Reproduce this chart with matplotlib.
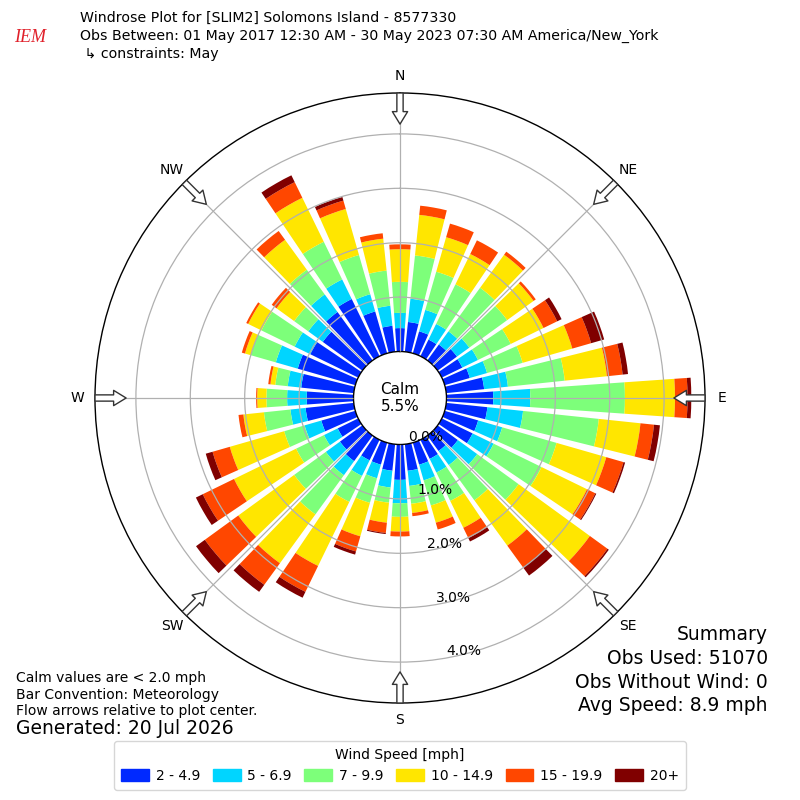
import numpy as np
import matplotlib
matplotlib.use("Agg")
import matplotlib.pyplot as plt
from matplotlib.patches import Rectangle, FancyArrowPatch

# ---------------- data ----------------
directions_deg = list(range(0, 360, 10))
speed_labels = ["2 - 4.9", "5 - 6.9", "7 - 9.9", "10 - 14.9", "15 - 19.9", "20+"]

# frequency (%) of each speed bin per direction (0, 10, ..., 350 deg)
freq_2_5 = [0.43, 0.55, 0.42, 0.34, 0.36, 0.44, 0.42, 0.48, 0.70, 0.86, 0.76, 0.64,
            0.63, 0.46, 0.35, 0.39, 0.42, 0.49, 0.65, 0.49, 0.42, 0.42, 0.58, 0.51,
            0.42, 0.65, 0.89, 0.86, 0.97, 1.10, 0.98, 0.90, 1.10, 1.17, 0.80, 0.48]
freq_5_7 = [0.28, 0.43, 0.41, 0.32, 0.30, 0.28, 0.32, 0.33, 0.44, 0.68, 0.66, 0.46,
            0.43, 0.44, 0.32, 0.28, 0.30, 0.28, 0.43, 0.31, 0.26, 0.32, 0.32, 0.32,
            0.28, 0.32, 0.28, 0.36, 0.25, 0.42, 0.32, 0.33, 0.40, 0.40, 0.33, 0.37]
freq_7_10 = [0.57, 0.80, 0.73, 0.81, 0.99, 0.86, 0.67, 0.68, 1.05, 1.74, 1.40, 1.04,
             0.98, 0.94, 0.80, 0.58, 0.48, 0.33, 0.25, 0.28, 0.47, 0.53, 0.89, 0.72,
             0.57, 0.39, 0.49, 0.38, 0.23, 0.48, 0.68, 0.32, 0.56, 0.77, 0.75, 0.65]
freq_10_15 = [0.60, 0.75, 0.66, 0.62, 0.75, 0.60, 0.67, 0.95, 0.78, 0.92, 0.77, 0.95,
              0.93, 1.62, 1.03, 0.55, 0.33, 0.17, 0.27, 0.37, 0.64, 1.31, 1.11, 1.27,
              1.27, 1.04, 0.38, 0.17, 0.09, 0.11, 0.27, 0.40, 0.68, 0.90, 0.88, 0.59]
freq_15_20 = [0.09, 0.17, 0.26, 0.28, 0.07, 0.05, 0.28, 0.36, 0.29, 0.23, 0.25, 0.33,
              0.17, 0.40, 0.49, 0.21, 0.13, 0.06, 0.09, 0.19, 0.29, 0.53, 0.49, 0.76,
              0.64, 0.33, 0.09, 0.02, 0.04, 0.06, 0.04, 0.11, 0.20, 0.32, 0.16, 0.10]
freq_20_up = [0.00, 0.00, 0.00, 0.00, 0.00, 0.00, 0.09, 0.25, 0.10, 0.07, 0.11, 0.03,
              0.02, 0.03, 0.19, 0.07, 0.00, 0.00, 0.00, 0.02, 0.06, 0.12, 0.16, 0.20,
              0.14, 0.13, 0.00, 0.00, 0.00, 0.00, 0.00, 0.00, 0.00, 0.14, 0.07, 0.00]

calm_pct = 5.5
compass_deg = [0, 45, 90, 135, 180, 225, 270, 315]
compass_labels = ["N", "NE", "E", "SE", "S", "SW", "W", "NW"]
radial_ticks = [0, 1, 2, 3, 4]
radial_labels = ["0.0%", "1.0%", "2.0%", "3.0%", "4.0%"]

title_lines = ["Windrose Plot for [SLIM2] Solomons Island - 8577330",
               "Obs Between: 01 May 2017 12:30 AM - 30 May 2023 07:30 AM America/New_York",
               " \u21b3 constraints: May"]
notes_lines = ["Calm values are < 2.0 mph", "Bar Convention: Meteorology",
               "Flow arrows relative to plot center."]
generated = "Generated: 20 Jul 2026"
summary_lines = ["Summary", "Obs Used: 51070", "Obs Without Wind: 0", "Avg Speed: 8.9 mph"]

# ---------------- plot ----------------
fig = plt.figure(figsize=(8, 8), dpi=100)
ax = fig.add_axes([0.11875, 0.12125, 0.7625, 0.7625], projection="polar")
ax.set_theta_zero_location("N")
ax.set_theta_direction(-1)
rmax = 4.752
ax.set_ylim(0, rmax)
ax.set_rorigin(-0.855)
ax.set_axisbelow(False)

cmap = plt.get_cmap("jet")
colors = [cmap(v) for v in np.linspace(0, 1, 7)[1:]]
series = [freq_2_5, freq_5_7, freq_7_10, freq_10_15, freq_15_20, freq_20_up]

theta = np.radians(directions_deg)
bottom = np.zeros(len(directions_deg))
for vals, col, lab in zip(series, colors, speed_labels):
    vals = np.array(vals)
    ax.bar(theta, vals, width=np.radians(8), bottom=bottom, color=col,
           edgecolor="none", label=lab, zorder=1)
    bottom = bottom + vals

ax.set_xticks(np.radians(compass_deg))
ax.set_xticklabels(compass_labels, fontsize=10)
ax.tick_params(axis="x", pad=2)
ax.set_yticks(radial_ticks)
ax.set_yticklabels(radial_labels, fontsize=10)
ax.set_rlabel_position(170)
ax.grid(True, color="#b0b0b0", linewidth=0.9)
ax.yaxis.get_gridlines()[0].set_visible(False)
ax.spines["polar"].set_linewidth(1.0)
ax.spines["inner"].set_linewidth(1.0)

for d in compass_deg:
    arr = FancyArrowPatch(posA=(np.radians(d), rmax), posB=(np.radians(d), 4.18),
                          arrowstyle="simple,head_length=9,head_width=11,tail_width=4.5",
                          mutation_scale=1, fc="white", ec="#333333", lw=1.0,
                          transform=ax.transData, clip_on=False, zorder=6,
                          shrinkA=0, shrinkB=0)
    ax.add_patch(arr)

ax.text(0.5, 0.5, "Calm\n%.1f%%" % calm_pct, transform=ax.transAxes,
        ha="center", va="center", fontsize=11)

# titles
for i, line in enumerate(title_lines):
    fig.text(0.1, 1 - (18 + 18 * i) / 800, line, ha="left", va="center", fontsize=10.2)
fig.text(0.037, 1 - 38 / 800, "IEM", color="#e0202a", fontstyle="italic",
         family="Liberation Serif", fontsize=13, ha="center", va="center")

for i, line in enumerate(notes_lines):
    fig.text(0.02, 1 - (678 + 16.5 * i) / 800, line, ha="left", va="center", fontsize=10)
fig.text(0.02, 1 - 729 / 800, generated, ha="left", va="center", fontsize=13.5)

for i, line in enumerate(summary_lines):
    fig.text(0.96, 1 - (635 + 23.5 * i) / 800, line, ha="right", va="center", fontsize=13.5)

handles = [Rectangle((0, 0), 1, 1, color=c) for c in colors]
leg = fig.legend(handles, speed_labels, loc="lower center", bbox_to_anchor=(0.5, 0.004),
                 ncol=6, title="Wind Speed [mph]", fontsize=10, title_fontsize=10,
                 handlelength=2.0, handleheight=0.9, handletextpad=0.5,
                 columnspacing=0.9, fancybox=True, borderpad=0.5)

fig.savefig("out.png", dpi=100)
